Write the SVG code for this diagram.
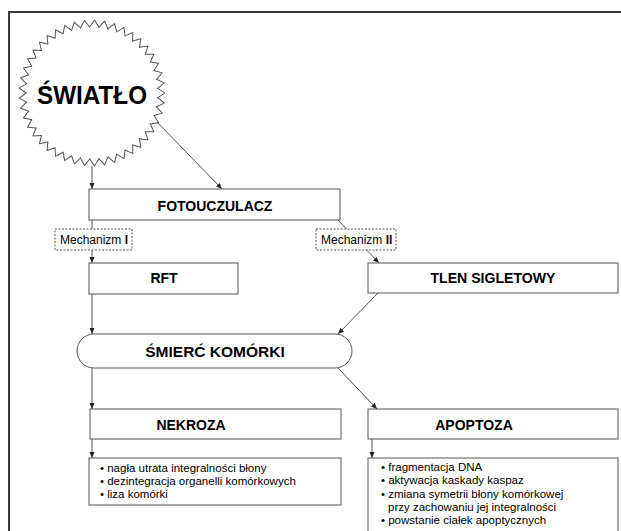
<svg xmlns="http://www.w3.org/2000/svg" xmlns:xlink="http://www.w3.org/1999/xlink" width="621" height="531" viewBox="0 0 621 531">
<style>
  .box { fill: #fff; stroke: #555; stroke-width: 1; }
  .lbl { fill: #fff; stroke: #555; stroke-width: 1; stroke-dasharray: 2 1.5; }
  .conn { fill: none; stroke: #555; stroke-width: 1; marker-end: url(#arr); }
  .t { font-family: "Liberation Sans", Arial, sans-serif; fill: #000; }
  .title { font-weight: bold; font-size: 14px; text-anchor: middle; }
  .small { font-size: 12px; }
  .list { font-size: 11.5px; }
  .star { fill: none; stroke: #555; stroke-width: 1; stroke-linecap: round; stroke-linejoin: round; }
</style>
<defs>
  <marker id="arr" markerWidth="6" markerHeight="6" refX="6" refY="3" orient="auto" markerUnits="userSpaceOnUse">
    <path d="M0,0.5 L6,3 L0,5.5 Z" fill="#222"/>
  </marker>
  <path id="spike" class="star" d="M65.84,-4.6 L73,0 L65.84,4.6"/>
</defs>
<rect width="621" height="531" fill="#fff"/>
<rect x="9" y="12" width="700" height="600" fill="none" stroke="#3a3a3a" stroke-width="2"/>

<g id="connectors">
  <path class="conn" d="M92,166 L92,189"/>
  <path class="conn" d="M157,122 L222,189"/>
  <path class="conn" d="M92,220 L92,263"/>
  <path class="conn" d="M338,220 L379,263"/>
  <path class="conn" d="M92,294 L92,334"/>
  <path class="conn" d="M378,293 L338,334"/>
  <path class="conn" d="M92,368 L92,409"/>
  <path class="conn" d="M338,368 L377,409"/>
  <path class="conn" d="M92,439 L92,458"/>
  <path class="conn" d="M372,439 L372,458"/>
  <g id="label-mech1">
    <rect class="lbl" x="55" y="229" width="77" height="21"/>
    <text class="t small" x="60" y="244">Mechanizm <tspan font-weight="bold">I</tspan></text>
  </g>
  <g id="label-mech2">
    <rect class="lbl" x="316" y="229" width="80" height="21"/>
    <text class="t small" x="321" y="244">Mechanizm <tspan font-weight="bold">II</tspan></text>
  </g>
</g>

<g id="swiatlo">
  <g transform="translate(92,93)">
    <use xlink:href="#spike" transform="rotate(0)"/><use xlink:href="#spike" transform="rotate(8)"/>
    <use xlink:href="#spike" transform="rotate(16)"/><use xlink:href="#spike" transform="rotate(24)"/>
    <use xlink:href="#spike" transform="rotate(32)"/><use xlink:href="#spike" transform="rotate(40)"/>
    <use xlink:href="#spike" transform="rotate(48)"/><use xlink:href="#spike" transform="rotate(56)"/>
    <use xlink:href="#spike" transform="rotate(64)"/><use xlink:href="#spike" transform="rotate(72)"/>
    <use xlink:href="#spike" transform="rotate(80)"/><use xlink:href="#spike" transform="rotate(88)"/>
    <use xlink:href="#spike" transform="rotate(96)"/><use xlink:href="#spike" transform="rotate(104)"/>
    <use xlink:href="#spike" transform="rotate(112)"/><use xlink:href="#spike" transform="rotate(120)"/>
    <use xlink:href="#spike" transform="rotate(128)"/><use xlink:href="#spike" transform="rotate(136)"/>
    <use xlink:href="#spike" transform="rotate(144)"/><use xlink:href="#spike" transform="rotate(152)"/>
    <use xlink:href="#spike" transform="rotate(160)"/><use xlink:href="#spike" transform="rotate(168)"/>
    <use xlink:href="#spike" transform="rotate(176)"/><use xlink:href="#spike" transform="rotate(184)"/>
    <use xlink:href="#spike" transform="rotate(192)"/><use xlink:href="#spike" transform="rotate(200)"/>
    <use xlink:href="#spike" transform="rotate(208)"/><use xlink:href="#spike" transform="rotate(216)"/>
    <use xlink:href="#spike" transform="rotate(224)"/><use xlink:href="#spike" transform="rotate(232)"/>
    <use xlink:href="#spike" transform="rotate(240)"/><use xlink:href="#spike" transform="rotate(248)"/>
    <use xlink:href="#spike" transform="rotate(256)"/><use xlink:href="#spike" transform="rotate(264)"/>
    <use xlink:href="#spike" transform="rotate(272)"/><use xlink:href="#spike" transform="rotate(280)"/>
    <use xlink:href="#spike" transform="rotate(288)"/><use xlink:href="#spike" transform="rotate(296)"/>
    <use xlink:href="#spike" transform="rotate(304)"/><use xlink:href="#spike" transform="rotate(312)"/>
    <use xlink:href="#spike" transform="rotate(320)"/><use xlink:href="#spike" transform="rotate(328)"/>
    <use xlink:href="#spike" transform="rotate(336)"/><use xlink:href="#spike" transform="rotate(344)"/>
    <use xlink:href="#spike" transform="rotate(352)"/>
  </g>
  <text class="t" x="92" y="104" font-size="25" font-weight="bold" text-anchor="middle" textLength="110" lengthAdjust="spacingAndGlyphs">ŚWIATŁO</text>
</g>

<g id="fotouczulacz">
  <rect class="box" x="89" y="189" width="251" height="31"/>
  <text class="t title" x="215" y="211">FOTOUCZULACZ</text>
</g>

<g id="rft">
  <rect class="box" x="89" y="263" width="149" height="31"/>
  <text class="t title" x="164" y="283">RFT</text>
</g>

<g id="tlen">
  <rect class="box" x="368" y="263" width="250" height="30"/>
  <text class="t title" x="493" y="283" textLength="125" lengthAdjust="spacingAndGlyphs">TLEN SIGLETOWY</text>
</g>

<g id="smierc">
  <rect class="box" x="77" y="334" width="275" height="34" rx="17" ry="17"/>
  <text class="t" x="215" y="357" font-size="15.5" font-weight="bold" text-anchor="middle">ŚMIERĆ KOMÓRKI</text>
</g>

<g id="nekroza">
  <rect class="box" x="90" y="409" width="251" height="30"/>
  <text class="t title" x="191" y="430">NEKROZA</text>
</g>

<g id="apoptoza">
  <rect class="box" x="368" y="409" width="250" height="30"/>
  <text class="t title" x="474" y="430">APOPTOZA</text>
</g>

<g id="nekroza-cechy">
  <rect class="box" x="89" y="458" width="252" height="47"/>
  <text class="t list" x="100" y="472">• nagła utrata integralności błony</text>
  <text class="t list" x="100" y="485">• dezintegracja organelli komórkowych</text>
  <text class="t list" x="100" y="498">• liza komórki</text>
</g>

<g id="apoptoza-cechy">
  <rect class="box" x="368" y="458" width="250" height="90"/>
  <text class="t list" x="381" y="471">• fragmentacja DNA</text>
  <text class="t list" x="381" y="484">• aktywacja kaskady kaspaz</text>
  <text class="t list" x="381" y="497.5">• zmiana symetrii błony komórkowej</text>
  <text class="t list" x="388" y="511">przy zachowaniu jej integralności</text>
  <text class="t list" x="381" y="524">• powstanie ciałek apoptycznych</text>
</g>
</svg>
